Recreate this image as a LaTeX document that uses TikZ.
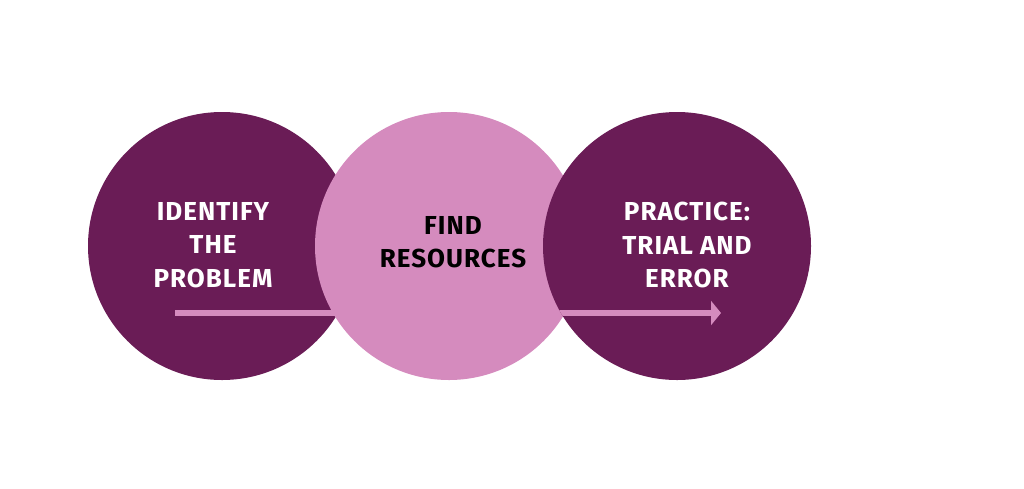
\documentclass[tikz,border=0pt]{standalone}
\usepackage{fontspec}
\setmainfont{Fira Sans}
\newfontfamily\dispfont{Fira Sans}[LetterSpace=4]
\usetikzlibrary{arrows.meta}
\definecolor{darkplum}{HTML}{6A1C56}
\definecolor{lightplum}{HTML}{D58BBE}
\tikzset{
  bubble/.style={circle, minimum size=268pt, inner sep=0pt},
  darkbubble/.style={bubble, fill=darkplum},
  lightbubble/.style={bubble, fill=lightplum},
  label/.style={font=\dispfont\bfseries\fontsize{26}{33.5}\selectfont, align=center, inner sep=0pt},
  flow/.style={draw=lightplum, line width=5.5pt, -{Triangle[length=10pt,width=24pt]}}
}
\begin{document}
\begin{tikzpicture}[x=1pt,y=-1pt]
\useasboundingbox (0,0) rectangle (1024,488);
\node[darkbubble] (c1) at (222,246) {};
\coordinate (s) at (175,313);
\coordinate (e) at (721,313);
\draw[flow] (s) -- (e);
\node[lightbubble] (c2) at (449,246) {};
\node[darkbubble] (c3) at (677,246) {};
\begin{scope}
\clip (c3.center) circle (134pt);
\draw[flow] (s) -- (e);
\end{scope}
\node[label, text=white] (t1) at (213,245) {IDENTIFY\\THE\\PROBLEM};
\node[label, text=black] (t2) at (453,242) {FIND\\RESOURCES};
\node[label, text=white] (t3) at (687,245) {PRACTICE:\\TRIAL AND\\ERROR};
\end{tikzpicture}
\end{document}
